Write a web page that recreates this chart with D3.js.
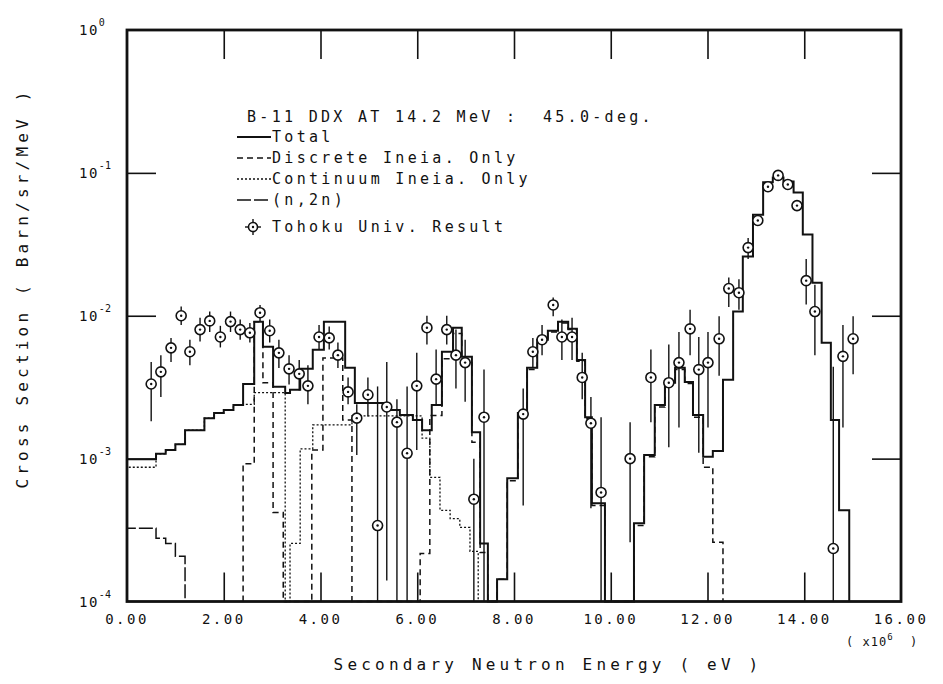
<!DOCTYPE html>
<html>
<head>
<meta charset="utf-8">
<script src="https://d3js.org/d3.v7.min.js"></script>
<style>
  body { margin: 0; background: #fff; }
  text { font-family: "DejaVu Sans Mono", monospace; fill: #111; }
</style>
</head>
<body>
<div id="chart"></div>
<script>
// axis ticks
var xTicks = [0, 2, 4, 6, 8, 10, 12, 14, 16];
var xTickLabels = ["0.00", "2.00", "4.00", "6.00", "8.00", "10.00", "12.00", "14.00", "16.00"];
var yTicks = [1, 0.1, 0.01, 0.001, 0.0001];
var yTickExp = ["0", "-1", "-2", "-3", "-4"];

// histograms: [left edge (MeV), value (barn/sr/MeV)], value 0 = off scale
var totalSteps = [
  [0, 9.9e-4], [0.6, 1.08e-3], [0.8, 1.15e-3], [1.0, 1.26e-3], [1.2, 1.58e-3],
  [1.6, 1.92e-3], [1.8, 2.09e-3], [2.0, 2.19e-3], [2.2, 2.37e-3], [2.4, 3.33e-3],
  [2.63, 9.08e-3], [2.81, 6.06e-3], [3.02, 3.18e-3], [3.27, 2.88e-3], [3.37, 3.03e-3],
  [3.58, 4.25e-3], [3.84, 5.77e-3], [4.07, 9.08e-3], [4.51, 4.32e-3], [4.71, 2.45e-3],
  [5.37, 2.19e-3], [5.64, 2.02e-3], [5.91, 1.86e-3], [6.10, 1.58e-3], [6.30, 2.37e-3],
  [6.51, 5.59e-3], [6.74, 8.24e-3], [6.92, 5.16e-3], [7.13, 1.53e-3], [7.30, 2.55e-4],
  [7.46, 0], [7.65, 1.43e-4], [7.86, 7.3e-4], [8.08, 2.09e-3], [8.27, 4.32e-3],
  [8.48, 6.79e-3], [8.70, 7.85e-3], [8.91, 9.08e-3], [9.12, 8.11e-3], [9.30, 4.91e-3],
  [9.47, 1.95e-3], [9.61, 4.87e-4], [9.88, 0], [10.48, 3.53e-4], [10.69, 1.06e-3],
  [10.91, 2.37e-3], [11.12, 3.39e-3], [11.33, 4.32e-3], [11.53, 3.44e-3], [11.70, 2.02e-3],
  [11.91, 1.03e-3], [12.11, 1.13e-3], [12.32, 3.56e-3], [12.53, 1.07e-2], [12.73, 2.6e-2],
  [12.94, 5.1e-2], [13.15, 8.6e-2], [13.35, 9.3e-2], [13.57, 8.7e-2], [13.78, 7.3e-2],
  [13.97, 3.7e-2], [14.17, 1.7e-2], [14.36, 6.47e-3], [14.55, 1.86e-3], [14.72, 4.35e-4],
  [14.93, 0]
];

var discreteSteps = [
  [2.40, 9.2e-4], [2.63, 9.08e-3], [2.81, 3.39e-3], [3.02, 4.2e-4], [3.23, 0],
  [3.82, 1.15e-3], [4.05, 5.07e-3], [4.46, 1.86e-3], [4.65, 0],
  [6.06, 2.17e-4], [6.26, 2.0e-3], [6.51, 5.0e-3], [6.74, 7.5e-3], [6.92, 4.7e-3],
  [7.13, 1.3e-3], [7.30, 2.2e-4], [7.46, 0],
  [7.65, 1.43e-4], [7.86, 7.0e-4], [8.08, 2.0e-3], [8.27, 4.2e-3], [8.48, 6.6e-3],
  [8.70, 7.7e-3], [8.91, 8.9e-3], [9.12, 8.0e-3], [9.30, 4.8e-3], [9.47, 1.9e-3],
  [9.61, 4.7e-4], [9.88, 0],
  [10.48, 3.4e-4], [10.69, 1.03e-3], [10.91, 2.3e-3], [11.12, 3.3e-3], [11.33, 4.2e-3],
  [11.53, 3.35e-3], [11.70, 1.95e-3], [11.91, 8.7e-4], [12.11, 2.6e-4], [12.32, 0]
];

var continuumSteps = [
  [0, 8.7e-4], [0.6, 1.08e-3], [0.8, 1.15e-3], [1.0, 1.26e-3], [1.2, 1.58e-3],
  [1.6, 1.92e-3], [1.8, 2.09e-3], [2.0, 2.19e-3], [2.2, 2.37e-3], [2.4, 2.4e-3],
  [2.63, 2.9e-3], [3.27, 0], [3.37, 2.55e-4], [3.58, 1.17e-3], [3.84, 1.72e-3],
  [4.65, 1.99e-3], [6.10, 1.39e-3], [6.26, 7.4e-4], [6.47, 4.35e-4], [6.68, 3.8e-4],
  [6.88, 3.3e-4], [7.09, 2.24e-4], [7.26, 0]
];

var n2nSteps = [
  [0, 3.25e-4], [0.6, 2.77e-4], [0.8, 2.55e-4], [1.0, 2.07e-4], [1.2, 0]
];

// Tohoku Univ. measured points with error bars
var tohokuE = [0.50, 0.70, 0.91, 1.12, 1.30, 1.51, 1.71, 1.93, 2.14, 2.34,
  2.54, 2.75, 2.95, 3.14, 3.35, 3.56, 3.74, 3.97, 4.18, 4.36,
  4.57, 4.75, 4.98, 5.18, 5.37, 5.58, 5.79, 5.99, 6.20, 6.39,
  6.61, 6.80, 6.99, 7.17, 7.38, 8.19, 8.39, 8.58, 8.81, 8.99,
  9.20, 9.41, 9.59, 9.80, 10.40, 10.83, 11.20, 11.41, 11.64, 11.82,
  12.01, 12.24, 12.44, 12.65, 12.84, 13.04, 13.25, 13.46, 13.66, 13.85,
  14.04, 14.22, 14.60, 14.80, 15.01];
var tohokuV = [3.33e-3, 4.05e-3, 5.96e-3, 1.0e-2, 5.6e-3, 8.0e-3, 9.2e-3, 7.1e-3, 9.1e-3, 8.0e-3,
  7.6e-3, 1.05e-2, 7.85e-3, 5.5e-3, 4.25e-3, 3.92e-3, 3.23e-3, 7.1e-3, 7.0e-3, 5.3e-3,
  2.93e-3, 1.92e-3, 2.8e-3, 3.4e-4, 2.3e-3, 1.8e-3, 1.09e-3, 3.23e-3, 8.25e-3, 3.6e-3,
  8.0e-3, 5.3e-3, 4.7e-3, 5.2e-4, 1.95e-3, 2.05e-3, 5.6e-3, 6.8e-3, 1.19e-2, 7.1e-3,
  7.1e-3, 3.7e-3, 1.77e-3, 5.8e-4, 1.0e-3, 3.7e-3, 3.4e-3, 4.7e-3, 8.1e-3, 4.2e-3,
  4.7e-3, 6.9e-3, 1.55e-2, 1.45e-2, 3.0e-2, 4.64e-2, 8.0e-2, 9.6e-2, 8.3e-2, 5.9e-2,
  1.76e-2, 1.07e-2, 2.35e-4, 5.2e-3, 6.9e-3];
var tohokuLo = [1.83e-3, 2.7e-3, 4.75e-3, 8.6e-3, 4.5e-3, 6.6e-3, 7.7e-3, 6.0e-3, 7.7e-3, 6.8e-3,
  6.5e-3, 9.1e-3, 6.5e-3, 4.3e-3, 3.3e-3, 3.0e-3, 2.4e-3, 5.8e-3, 5.8e-3, 4.3e-3,
  2.4e-3, 1.06e-3, 1.97e-3, 1e-4, 1.4e-4, 1e-4, 1e-4, 1.15e-3, 6.3e-3, 2.35e-3,
  6.3e-3, 3.1e-3, 2.5e-3, 1e-4, 1e-4, 4.7e-4, 4.3e-3, 5.3e-3, 9.9e-3, 4.9e-3,
  4.9e-3, 2.6e-3, 4.5e-4, 1e-4, 2.6e-4, 1.8e-3, 1.2e-3, 1.65e-3, 5.3e-3, 1.1e-3,
  1.65e-3, 3.8e-3, 1.15e-2, 1.1e-2, 2.5e-2, 4.3e-2, 7.5e-2, 9.0e-2, 7.8e-2, 5.5e-2,
  1.2e-2, 5.3e-3, 1e-4, 1.65e-3, 3.9e-3];
var tohokuHi = [4.75e-3, 5.3e-3, 7.0e-3, 1.16e-2, 6.8e-3, 9.7e-3, 1.07e-2, 8.5e-3, 1.07e-2, 9.4e-3,
  8.9e-3, 1.19e-2, 9.4e-3, 6.8e-3, 5.3e-3, 4.9e-3, 4.5e-3, 8.6e-3, 8.4e-3, 6.5e-3,
  3.7e-3, 2.4e-3, 3.7e-3, 3.2e-3, 4.75e-3, 2.6e-3, 3.2e-3, 5.5e-3, 1.0e-2, 5.8e-3,
  1.0e-2, 8.0e-3, 6.8e-3, 1.0e-3, 4.2e-3, 3.1e-3, 7.0e-3, 8.6e-3, 1.34e-2, 9.4e-3,
  9.7e-3, 5.5e-3, 2.7e-3, 1.95e-3, 1.8e-3, 5.8e-3, 6.3e-3, 7.7e-3, 1.1e-2, 7.1e-3,
  7.7e-3, 9.9e-3, 1.85e-2, 1.8e-2, 3.5e-2, 5.0e-2, 8.5e-2, 1.02e-1, 8.8e-2, 6.3e-2,
  2.5e-2, 1.65e-2, 4.4e-3, 8.6e-3, 9.9e-3];

var margin = {top: 30, right: 42, bottom: 82.5, left: 127}
      , width = 943 - margin.left - margin.right
      , height = 684 - margin.top - margin.bottom;

var x = d3.scaleLinear()
          .domain([0, 16])
          .range([0, width]);

var y = d3.scaleLog()
          .domain([1e-4, 1])
          .range([height, 0])
          .clamp(true);

var svg = d3.select('#chart')
  .append('svg')
  .attr('width', 943)
  .attr('height', 684);

var main = svg.append('g')
  .attr('transform', 'translate(' + margin.left + ',' + margin.top + ')');

// inward ticks on all four sides
var tickLen = 29;
var inner = xTicks.slice(1, -1);
var innerY = yTicks.slice(1, -1);

main.append('g')
  .attr('transform', 'translate(0,' + height + ')')
  .call(d3.axisBottom(x).tickValues(inner).tickSize(-tickLen).tickFormat(''));
main.append('g')
  .call(d3.axisTop(x).tickValues(inner).tickSize(-tickLen).tickFormat(''));
main.append('g')
  .call(d3.axisLeft(y).tickValues(innerY).tickSize(-tickLen).tickFormat(''));
main.append('g')
  .attr('transform', 'translate(' + width + ',0)')
  .call(d3.axisRight(y).tickValues(innerY).tickSize(-tickLen).tickFormat(''));

main.selectAll('.domain').remove();
main.selectAll('.tick line').attr('stroke', '#111').attr('stroke-width', 1.6);

// step histograms
var step = d3.line()
  .x(function(d) { return x(d[0]); })
  .y(function(d) { return y(Math.max(d[1], 1e-4)); })
  .curve(d3.curveStepAfter);

function fromFloor(steps) {
  return [[steps[0][0], 0]].concat(steps);
}

var series = [
  [discreteSteps, 1.5, '6,4'],
  [continuumSteps, 1.3, '2,2'],
  [n2nSteps, 1.5, '14,3'],
  [totalSteps, 2, null]
];

series.forEach(function(s) {
  main.append('path')
    .attr('d', step(fromFloor(s[0])))
    .attr('fill', 'none')
    .attr('stroke', '#111')
    .attr('stroke-width', s[1])
    .attr('stroke-dasharray', s[2]);
});

// measured points
var pts = main.append('g');
tohokuE.forEach(function(e, i) {
  pts.append('line')
    .attr('x1', x(e)).attr('x2', x(e))
    .attr('y1', y(tohokuLo[i])).attr('y2', y(tohokuHi[i]))
    .attr('stroke', '#111')
    .attr('stroke-width', 1.4);
  pts.append('circle')
    .attr('cx', x(e)).attr('cy', y(tohokuV[i]))
    .attr('r', 5)
    .attr('fill', '#fff')
    .attr('stroke', '#111')
    .attr('stroke-width', 1.6);
  pts.append('circle')
    .attr('cx', x(e)).attr('cy', y(tohokuV[i]))
    .attr('r', 1.2)
    .attr('fill', '#111');
});

// frame
main.append('rect')
  .attr('width', width)
  .attr('height', height)
  .attr('fill', 'none')
  .attr('stroke', '#111')
  .attr('stroke-width', 2.8);

// tick labels
main.selectAll('.xlab')
  .data(xTicks)
  .enter().append('text')
  .attr('x', function(d) { return x(d); })
  .attr('y', height + 22)
  .attr('text-anchor', 'middle')
  .style('font-size', '14px')
  .style('letter-spacing', '2.5px')
  .text(function(d, i) { return xTickLabels[i]; });

var ylab = main.selectAll('.ylab')
  .data(yTicks)
  .enter().append('text')
  .attr('x', -48)
  .attr('y', function(d) { return y(d) + 5; })
  .style('font-size', '14px')
  .style('letter-spacing', '1.5px');
ylab.append('tspan').text('10');
ylab.append('tspan')
  .attr('dy', -9)
  .style('font-size', '10px')
  .style('letter-spacing', '0px')
  .text(function(d, i) { return yTickExp[i]; });

// axis titles
svg.append('text')
  .attr('transform', 'translate(28,288) rotate(-90)')
  .attr('text-anchor', 'middle')
  .style('font-size', '16px')
  .style('letter-spacing', '4.2px')
  .text('Cross Section ( Barn/sr/MeV )');

svg.append('text')
  .attr('x', 548)
  .attr('y', 670)
  .attr('text-anchor', 'middle')
  .style('font-size', '16px')
  .style('letter-spacing', '4.2px')
  .text('Secondary Neutron Energy ( eV )');

var unit = svg.append('text')
  .attr('x', 846)
  .attr('y', 646)
  .style('font-size', '12px')
  .style('letter-spacing', '1px')
  .style('white-space', 'pre');
unit.append('tspan').text('( x10');
unit.append('tspan').attr('dy', -6).style('font-size', '9px').text('6');
unit.append('tspan').attr('dy', 6).text('  )');

// legend
var legend = svg.append('g')
  .attr('class', 'legend')
  .style('font-size', '15px')
  .style('letter-spacing', '3.3px');

legend.append('text')
  .attr('x', 247)
  .attr('y', 122)
  .style('white-space', 'pre')
  .text('B-11 DDX AT 14.2 MeV :  45.0-deg.');

var legendRows = [
  ['Total', 137, 2, null],
  ['Discrete Ineia. Only', 158, 1.5, '6,4'],
  ['Continuum Ineia. Only', 179, 1.3, '2,2'],
  ['(n,2n)', 200, 1.5, '14,3']
];

legendRows.forEach(function(r) {
  legend.append('line')
    .attr('x1', 237).attr('x2', 271)
    .attr('y1', r[1]).attr('y2', r[1])
    .attr('stroke', '#111')
    .attr('stroke-width', r[2])
    .attr('stroke-dasharray', r[3]);
  legend.append('text')
    .attr('x', 272)
    .attr('y', r[1] + 5)
    .text(r[0]);
});

// Tohoku symbol in legend
var sym = legend.append('g').attr('transform', 'translate(253,227)');
sym.append('line').attr('x1', -8).attr('x2', 8).attr('stroke', '#111').attr('stroke-width', 1.4);
sym.append('line').attr('y1', -8).attr('y2', 8).attr('stroke', '#111').attr('stroke-width', 1.4);
sym.append('circle').attr('r', 4.5).attr('fill', '#fff').attr('stroke', '#111').attr('stroke-width', 1.6);
sym.append('circle').attr('r', 1.2).attr('fill', '#111');

legend.append('text')
  .attr('x', 272)
  .attr('y', 232)
  .text('Tohoku Univ. Result');
</script>
</body>
</html>
